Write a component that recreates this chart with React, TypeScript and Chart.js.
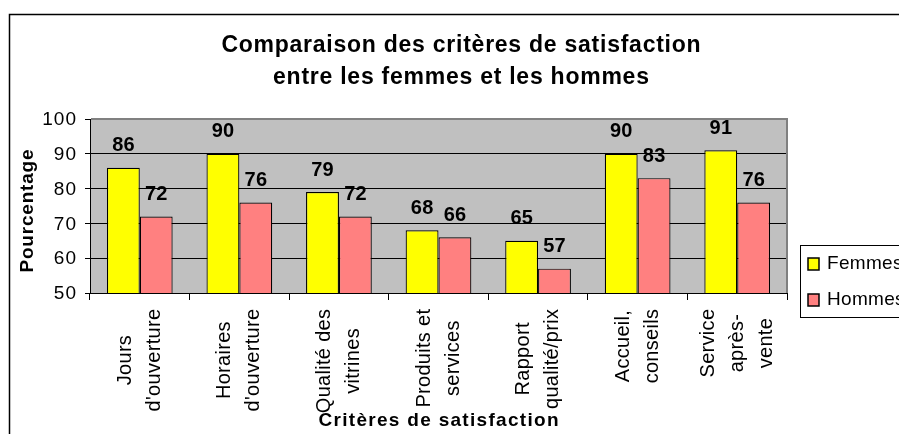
import React, { useEffect, useRef } from "react";
import { Chart, registerables } from "chart.js";

Chart.register(...registerables);

// ---- data ----
const categories: string[][] = [
  ["Jours", "d'ouverture"],
  ["Horaires", "d'ouverture"],
  ["Qualité des", "vitrines"],
  ["Produits et", "services"],
  ["Rapport", "qualité/prix"],
  ["Accueil,", "conseils"],
  ["Service", "après-", "vente"],
];
const seriesNames = ["Femmes", "Hommes"];
const femmes = [86, 90, 79, 68, 65, 90, 91];
const hommes = [72, 76, 72, 66, 57, 83, 76];
const yMin = 50;
const yMax = 100;
const yStep = 10;
const titleLines = ["Comparaison des critères de satisfaction", "entre les femmes et les hommes"];
const yTitle = "Pourcentage";
const xTitle = "Critères de satisfaction";

const FONT = '"Liberation Sans", Arial, sans-serif';
const COLORS = ["#ffff00", "#ff8080"];

function drawText(
  ctx: CanvasRenderingContext2D,
  s: string,
  x: number,
  y: number,
  font: string,
  spacing: number,
  align: "left" | "center" | "right",
  rot = 0,
  baseline: CanvasTextBaseline = "middle"
) {
  ctx.save();
  ctx.font = font;
  (ctx as any).letterSpacing = spacing + "px";
  ctx.fillStyle = "#000";
  ctx.textBaseline = baseline;
  ctx.textAlign = "left";
  const w = ctx.measureText(s).width - spacing;
  let dx = 0;
  if (align === "center") dx = -w / 2;
  else if (align === "right") dx = -w;
  ctx.translate(x, y);
  if (rot) ctx.rotate(rot);
  ctx.fillText(s, dx, 0);
  ctx.restore();
}

function measure(ctx: CanvasRenderingContext2D, s: string, font: string, spacing: number) {
  ctx.save();
  ctx.font = font;
  (ctx as any).letterSpacing = spacing + "px";
  const w = ctx.measureText(s).width - spacing;
  ctx.restore();
  return w;
}

const excelPlugin = {
  id: "excelLook",
  beforeDraw(chart: any) {
    const ctx: CanvasRenderingContext2D = chart.ctx;
    const a = chart.chartArea;
    ctx.save();
    ctx.fillStyle = "#ffffff";
    ctx.fillRect(0, 0, chart.width, chart.height);
    ctx.strokeStyle = "#000";
    ctx.lineWidth = 1.5;
    ctx.strokeRect(9.5, 14.5, 1200, 1200);
    ctx.fillStyle = "#c0c0c0";
    ctx.fillRect(a.left, a.top, a.right - a.left, a.bottom - a.top);
    ctx.restore();
  },
  beforeDatasetsDraw(chart: any) {
    const ctx: CanvasRenderingContext2D = chart.ctx;
    const a = chart.chartArea;
    ctx.save();
    ctx.strokeStyle = "#808080";
    ctx.lineWidth = 2;
    ctx.beginPath();
    ctx.moveTo(a.left + 1, a.top);
    ctx.lineTo(a.right, a.top);
    ctx.lineTo(a.right, a.bottom);
    ctx.stroke();
    ctx.restore();
  },
  afterDatasetsDraw(chart: any) {
    const ctx: CanvasRenderingContext2D = chart.ctx;
    chart.data.datasets.forEach((ds: any, di: number) => {
      const meta = chart.getDatasetMeta(di);
      meta.data.forEach((bar: any, i: number) => {
        drawText(ctx, String(ds.data[i]), bar.x, bar.y - 22, `bold 20px ${FONT}`, 0.2, "center");
      });
    });
  },
  afterDraw(chart: any) {
    const ctx: CanvasRenderingContext2D = chart.ctx;
    const a = chart.chartArea;
    const xs = chart.scales.x;
    const ys = chart.scales.y;

    // title
    drawText(ctx, titleLines[0], 461, 52, `bold 23px ${FONT}`, 0.75, "center", 0, "alphabetic");
    drawText(ctx, titleLines[1], 461, 84, `bold 23px ${FONT}`, 0.75, "center", 0, "alphabetic");

    // y tick labels
    ys.ticks.forEach((t: any) => {
      const y = ys.getPixelForValue(t.value);
      drawText(ctx, String(t.value), a.left - 14, y + 1, `19px ${FONT}`, 1, "right");
    });

    // y title
    drawText(ctx, yTitle, 28, (a.top + a.bottom) / 2 + 5, `bold 19px ${FONT}`, 0.8, "center", -Math.PI / 2);

    // x labels
    const xFont = `20px ${FONT}`;
    const xSp = 0.3;
    const pitch = 29;
    const top = a.bottom + 16;
    (chart.data.labels as string[][]).forEach((lines, i) => {
      const cx = xs.getPixelForValue(i);
      const maxW = Math.max(...lines.map((l) => measure(ctx, l, xFont, xSp)));
      const cy = top + maxW / 2;
      lines.forEach((l, j) => {
        const lx = cx + (j - (lines.length - 1) / 2) * pitch;
        drawText(ctx, l, lx, cy, xFont, xSp, "center", -Math.PI / 2);
      });
    });

    // x title
    drawText(ctx, xTitle, (a.left + a.right) / 2, 421, `bold 19px ${FONT}`, 1.3, "center");

    // legend
    ctx.save();
    ctx.strokeStyle = "#000";
    ctx.lineWidth = 1;
    ctx.strokeRect(800.5, 245.5, 300, 72);
    ctx.restore();
    chart.data.datasets.forEach((ds: any, di: number) => {
      const cy = 264 + di * 36;
      ctx.save();
      ctx.fillStyle = ds.backgroundColor;
      ctx.fillRect(808, cy - 6, 11, 12);
      ctx.strokeStyle = "#000";
      ctx.lineWidth = 1.5;
      ctx.strokeRect(808, cy - 6, 11, 12);
      ctx.restore();
      drawText(ctx, ds.label, 827, cy, `19px ${FONT}`, 0.3, "left");
    });
  },
};

export default function App() {
  const ref = useRef<HTMLCanvasElement>(null);
  useEffect(() => {
    if (!ref.current) return;
    const chart = new Chart(ref.current, {
      type: "bar",
      data: {
        labels: categories as any,
        datasets: [
          {
            label: seriesNames[0],
            data: femmes,
            backgroundColor: COLORS[0],
            borderColor: "#000",
            borderWidth: 1.2,
            borderSkipped: false,
            categoryPercentage: 0.66,
            barPercentage: 1,
          },
          {
            label: seriesNames[1],
            data: hommes,
            backgroundColor: COLORS[1],
            borderColor: "#000",
            borderWidth: 1.2,
            borderSkipped: false,
            categoryPercentage: 0.66,
            barPercentage: 1,
          },
        ],
      },
      options: {
        responsive: false,
        animation: false,
        devicePixelRatio: 1,
        layout: { padding: { left: 70, top: 119, right: 112, bottom: 121 } },
        plugins: {
          legend: { display: false },
          title: { display: false },
          tooltip: { enabled: false },
        },
        scales: {
          x: {
            grid: { display: true, drawOnChartArea: false, offset: true, color: "#000", tickLength: 7, lineWidth: 1 },
            border: { display: true, color: "#000", width: 1 },
            ticks: { display: false },
            afterFit: (s: any) => {
              s.height = 20;
            },
          },
          y: {
            min: yMin,
            max: yMax,
            ticks: { display: false, stepSize: yStep },
            grid: { color: "#000", tickLength: 5, lineWidth: 1, drawTicks: true },
            border: { display: true, color: "#000", width: 1 },
            afterFit: (s: any) => {
              s.width = 20;
            },
          },
        },
      },
      plugins: [excelPlugin],
    });
    return () => chart.destroy();
  }, []);
  return (
    <div style={{ position: "absolute", left: 0, top: 0, width: 899, height: 434, overflow: "hidden" }}>
      <canvas ref={ref} width={899} height={434} style={{ display: "block" }} />
    </div>
  );
}
